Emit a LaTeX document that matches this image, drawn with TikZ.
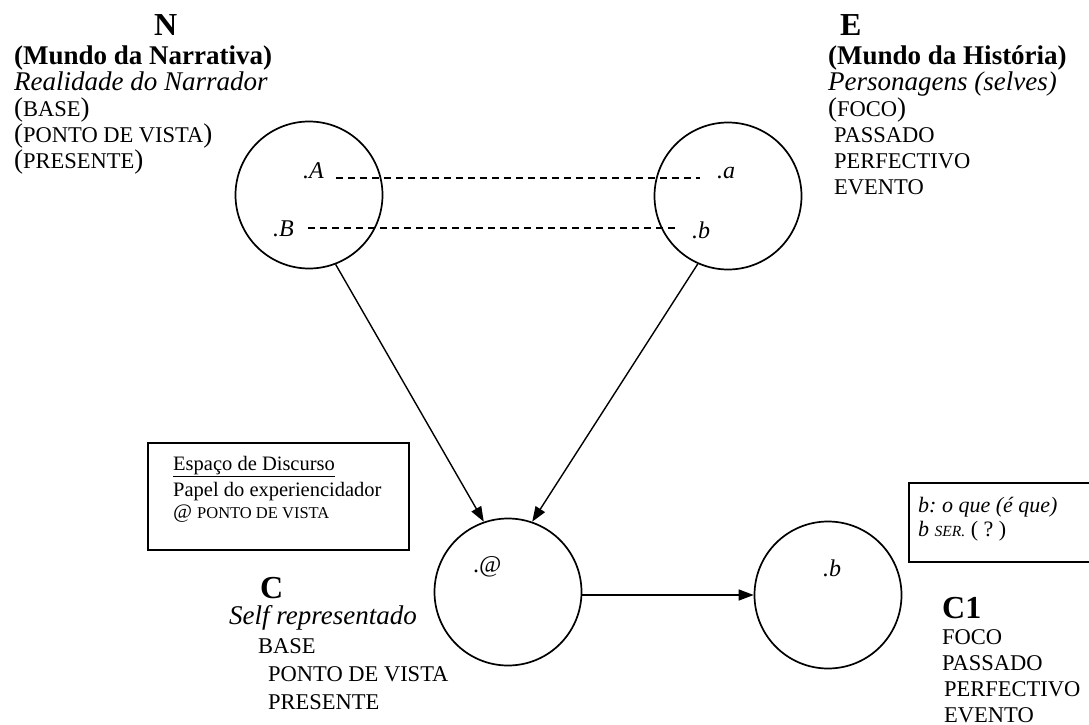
\documentclass[tikz,border=0pt]{standalone}
\usepackage{fontspec}
\setmainfont{Liberation Serif}
\usetikzlibrary{arrows.meta,positioning}
\frenchspacing

% versaletes falsos: maiusculas num corpo menor
\newcommand{\smc}[1]{{\fontsize{22.5}{22.5}\selectfont #1}}
\newcommand{\smcp}[1]{{\fontsize{16.5}{16.5}\selectfont #1}}

\begin{document}
\begin{tikzpicture}[x=1pt, y=-1pt,
  every node/.style={font=\fontsize{27}{27}\selectfont, inner sep=0pt},
  espaco/.style={circle, draw, line width=1.7pt, minimum size=147pt},
  rotulo/.style={anchor=base west},
  titulo/.style={anchor=base west, font=\fontsize{32}{32}\selectfont\bfseries},
  ponto/.style={anchor=base west, font=\fontsize{24}{24}\selectfont\itshape},
  liga/.style={line width=1.5pt, dash pattern=on 7pt off 5pt},
  seta/.style={line width=1.4pt, -{Triangle[length=15pt,width=11pt]}},
  caixa/.style={draw, line width=1.4pt}]
  \useasboundingbox (0,0) rectangle (1089,725);
  % espacos mentais
  \node[espaco] (N) at (309,195) {};
  \node[espaco] (E) at (728,196) {};
  \node[espaco] (C) at (508,592) {};
  \node[espaco] (C1) at (828,595) {};
  % bloco N
  \node[titulo] (tN) at (154,36) {N};
  \node[rotulo, font=\fontsize{27}{27}\selectfont\bfseries] (tN1) at (14,64) {(Mundo da Narrativa)};
  \node[rotulo, font=\fontsize{27}{27}\selectfont\itshape] (tN2) at (14,90) {Realidade do Narrador};
  \node[rotulo] (tN3) at (14,116) {(\smc{BASE})};
  \node[rotulo] (tN4) at (14,142) {(\smc{PONTO DE VISTA})};
  \node[rotulo] (tN5) at (14,168) {(\smc{PRESENTE})};
  % bloco E
  \node[titulo] (tE) at (840,36) {E};
  \node[rotulo, font=\fontsize{27}{27}\selectfont\bfseries] (tE1) at (828,64) {(Mundo da História)};
  \node[rotulo, font=\fontsize{27}{27}\selectfont\itshape] (tE2) at (828,90) {Personagens (selves)};
  \node[rotulo] (tE3) at (828,116) {(\smc{FOCO})};
  \node[rotulo] (tE4) at (834,142) {\smc{PASSADO}};
  \node[rotulo] (tE5) at (834,168) {\smc{PERFECTIVO}};
  \node[rotulo] (tE6) at (834,194) {\smc{EVENTO}};
  % pontos e ligacoes entre N e E
  \node[ponto] (pA) at (303,178) {.A};
  \node[ponto] (pa) at (717,178) {.a};
  \node[ponto] (pB) at (273,236) {.B};
  \node[ponto] (pb) at (692,238) {.b};
  \draw[liga] ([xshift=12pt]pA.base east) -- ([xshift=-17pt]pa.base west);
  \draw[liga] ([shift={(14pt,8pt)}]pB.base east) -- ([shift={(-17pt,10pt)}]pb.base west);
  % projecao para o espaco C
  \draw[seta] (N.-69) -- (C.109);
  \draw[seta] (E.-114) -- (C.71);
  \draw[seta] (C.east |- C1.west) -- (C1.west);
  % pontos em C e C1
  \node[ponto, font=\fontsize{24}{24}\selectfont] (pAt) at (473,572) {.\textit{@}};
  \node[ponto] (pb1) at (823,576) {.b};
  % caixa do espaco de discurso
  \draw[caixa] (148,443) rectangle (409,550);
  \node[rotulo, font=\fontsize{20.5}{20.5}\selectfont] (tD1) at (173,470) {\underline{Espaço de Discurso}};
  \node[rotulo, font=\fontsize{20.5}{20.5}\selectfont] (tD2) at (173,496) {Papel do experiencidador};
  \node[rotulo, font=\fontsize{20.5}{20.5}\selectfont] (tD3) at (173,518) {\textit{@} \smcp{PONTO DE VISTA}};
  % caixa da pergunta
  \draw[caixa] (909,483) rectangle (1096,562);
  \node[rotulo, font=\fontsize{22}{22}\selectfont\itshape] (tQ1) at (918,512) {b: o que (é que)};
  \node[rotulo, font=\fontsize{22}{22}\selectfont] (tQ2) at (918,536) {\textit{b} {\fontsize{15.5}{15.5}\selectfont\itshape SER.} ( ? )};
  % bloco C
  \node[titulo] (tC) at (260,598) {C};
  \node[rotulo, font=\fontsize{27}{27}\selectfont\itshape] (tC1) at (229,624) {Self representado};
  \node[rotulo] (tC2) at (258,653) {\smc{BASE}};
  \node[rotulo] (tC3) at (268,681) {\smc{PONTO DE VISTA}};
  \node[rotulo] (tC4) at (268,709) {\smc{PRESENTE}};
  % bloco C1
  \node[titulo] (tC1a) at (942,618) {C1};
  \node[rotulo] (tF1) at (942,644) {\smc{FOCO}};
  \node[rotulo] (tF2) at (942,670) {\smc{PASSADO}};
  \node[rotulo] (tF3) at (944,696) {\smc{PERFECTIVO}};
  \node[rotulo] (tF4) at (944,722) {\smc{EVENTO}};
\end{tikzpicture}
\end{document}
